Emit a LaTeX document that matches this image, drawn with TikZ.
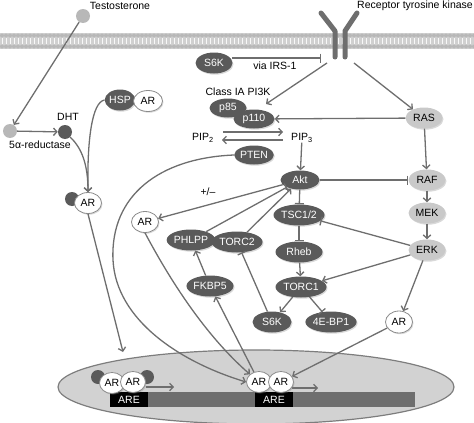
\documentclass[tikz,border=0pt]{standalone}
\usepackage{fontspec}
\setmainfont{Liberation Sans}
\usetikzlibrary{shapes.geometric,arrows.meta,shadows}
\definecolor{dkc}{HTML}{5A5A5A}
\definecolor{ltc}{HTML}{C9C9C9}
\definecolor{lnc}{HTML}{6E6E6E}
\definecolor{nucc}{HTML}{D2D2D2}
\definecolor{memb}{HTML}{D0D0D0}
\definecolor{memh}{HTML}{B8B8B8}
\begin{document}
\begin{tikzpicture}[x=1pt,y=-1pt,font=\fontsize{10.5}{12}\selectfont,
  ov/.style={ellipse,inner sep=0pt,drop shadow={shadow xshift=1pt,shadow yshift=-1.2pt,opacity=0.3}},
  sz/.style 2 args={minimum width=#1pt,minimum height=#2pt},
  dk/.style={ov,fill=dkc,text=white},
  lt/.style={ov,fill=ltc,text=black},
  wt/.style={ov,fill=white,draw=lnc!80,line width=0.8pt,text=black},
  ball/.style={circle,inner sep=0pt,minimum size=14pt},
  act/.style={draw=lnc,line width=1.3pt,-{Straight Barb[length=3.5pt,width=7.5pt]}},
  inh/.style={draw=lnc,line width=1.3pt,-{Bar[width=9pt]}},
  lbl/.style={inner sep=0pt},
  rtk/.style={draw=lnc,line width=5pt,line cap=round,line join=round},
  boxare/.style={fill=black,text=white,inner sep=0pt,minimum width=38pt,minimum height=15pt},
]
\useasboundingbox (0,0) rectangle (474,423);
% membrane
\fill[memb] (0,33) rectangle (474,49);
\foreach \xx in {2,6,...,474}{
  \draw[white!85!memb,line width=0.9pt] (\xx,38)--(\xx,44);
  \fill[memh] (\xx,35.5) circle (2);
  \fill[memh] (\xx,46.5) circle (2);
}
% receptor
\draw[rtk] (321,13)--(335,31)--(335,57);
\draw[rtk] (357,13)--(345,31)--(345,57);
% nucleus
\fill[nucc,draw=lnc!90,line width=1.2pt] (256,387) ellipse [x radius=198, y radius=37];
\fill[lnc] (110,392) rectangle (415,407);
\node[boxare] (are1) at (129,399.5) {ARE};
\node[boxare] (are2) at (274,399.5) {ARE};
\coordinate (tx1a) at (146,387); \coordinate (tx1b) at (174,387);
\coordinate (tx2a) at (292,388); \coordinate (tx2b) at (318,388);
\draw[act] (tx1a) -- (tx1b);
\draw[act] (tx2a) -- (tx2b);
% labels
\node[lbl] (testlbl) at (120,6) {Testosterone};
\node[lbl,anchor=east] (rtklbl) at (473,6) {Receptor tyrosine kinase};
\node[lbl] (dhtlbl) at (68,117) {DHT};
\node[lbl] (redlbl) at (40,145) {5α-reductase};
\node[lbl] (pi3klbl) at (238,92) {Class IA PI3K};
\node[lbl] (irslbl) at (275,66) {via IRS-1};
\node[lbl] (pip2) at (203,138) {PIP\textsubscript{2}};
\node[lbl] (pip3) at (302,138) {PIP\textsubscript{3}};
\node[lbl] (pm) at (208,192) {+/–};
% balls
\node[ball,fill=memh] (t1) at (83,16) {};
\node[ball,fill=memh] (t2) at (10,131) {};
\node[ball,fill=dkc] (dht) at (65,132) {};
% nodes
\node[dk,sz={29}{21}] (hsp) at (120,100) {HSP};
\node[wt,sz={29}{21}] (arh) at (148,101) {AR};
\node[ball,fill=dkc] (dhtb) at (72,199) {};
\node[wt,sz={27}{21}] (arc) at (88,203) {AR};
\node[dk,sz={37}{21}] (s6ka) at (214,63) {S6K};
\node[dk,sz={37}{19}] (p85) at (228,108) {p85};
\node[dk,sz={41}{19}] (p110) at (254,119) {p110};
\node[lt,sz={37}{21}] (ras) at (424,118) {RAS};
\node[dk,sz={37}{19}] (pten) at (254,155) {PTEN};
\node[dk,sz={39}{19}] (akt) at (300,180) {Akt};
\node[lt,sz={37}{21}] (raf) at (427,180) {RAF};
\node[lt,sz={37}{21}] (mek) at (427,213) {MEK};
\node[lt,sz={37}{21}] (erk) at (427,250) {ERK};
\node[dk,sz={51}{21}] (tsc) at (299,215) {TSC1/2};
\node[dk,sz={47}{21}] (rheb) at (299,252) {Rheb};
\node[dk,sz={51}{21}] (torc1) at (301,287) {TORC1};
\node[dk,sz={39}{21}] (s6kb) at (272,322) {S6K};
\node[dk,sz={45}{21}] (ebp) at (331,322) {4E-BP1};
\node[wt,sz={27}{22}] (arr) at (399,322) {AR};
\node[wt,sz={27}{21}] (arm) at (145,222) {AR};
\node[dk,sz={41}{21}] (phlpp) at (191,240) {PHLPP};
\node[dk,sz={51}{21}] (torc2) at (237,242) {TORC2};
\node[dk,sz={41}{21}] (fkbp) at (210,286) {FKBP5};
% nuclear AR dimers
\node[ball,fill=dkc] (b1) at (98,377) {};
\node[ball,fill=dkc] (b2) at (147,377) {};
\node[wt,sz={25}{21}] (d1l) at (112,383) {AR};
\node[wt,sz={25}{21}] (d1r) at (133,382) {AR};
\node[wt,sz={25}{21}] (d2l) at (259,382) {AR};
\node[wt,sz={25}{21}] (d2r) at (281,382) {AR};
% coordinates
\coordinate (n1) at (123,352);
\coordinate (s6kr) at (232,58);
\coordinate (rtkbar) at (321,58);
\coordinate (rtkL) at (327,63);
\coordinate (rtkR) at (354,63);
\coordinate (pi3kin) at (266,104);
\coordinate (pipua) at (223,132); \coordinate (pipub) at (283,132);
\coordinate (pipla) at (283,140); \coordinate (piplb) at (222,140);
% connectors
\draw[act] (t1) -- (t2);
\draw[act] (t2) -- (dht);
\draw[act] (dht.south east) .. controls (82,148) and (88,165) .. (arc.north);
\draw[act] (hsp.west) .. controls (92,102) and (87,140) .. (arc.north);
\draw[act] (arc.south) -- (n1);
\draw[inh] (s6kr) -- (rtkbar);
\draw[act] (rtkL) -- (pi3kin);
\draw[act] (rtkR) -- (ras);
\draw[act] (ras) -- (p110);
\draw[act] (pipua) -- (pipub);
\draw[act] (pipla) -- (piplb);
\draw[act] (pip3) -- (akt);
\draw[act] (pten.west) .. controls (160,158) and (110,195) .. (113,260) .. controls (116,320) and (180,362) .. (d2l.west);
\draw[inh] (akt) -- (raf);
\draw[act] (ras) -- (raf);
\draw[act] (raf) -- (mek);
\draw[act] (mek) -- (erk);
\draw[inh] (akt) -- (tsc);
\draw[inh] (tsc) -- (rheb);
\draw[act] (rheb) -- (torc1);
\draw[inh] (erk) -- (tsc);
\draw[act] (erk) -- (torc1);
\draw[act] (erk) -- (arr);
\draw[act] (arr) -- (d2r);
\draw[act] (torc1) -- (s6kb);
\draw[inh] (torc1) -- (ebp);
\draw[act] (akt) -- (arm);
\draw[inh] (phlpp) -- (akt);
\draw[act] (torc2) -- (akt);
\draw[act] (fkbp) -- (phlpp);
\draw[act] (d2l) -- (fkbp);
\draw[inh] (s6kb) -- (torc2);
\draw[act] (arm.south) .. controls (170,280) and (205,335) .. (d2l.north west);
\end{tikzpicture}
\end{document}
